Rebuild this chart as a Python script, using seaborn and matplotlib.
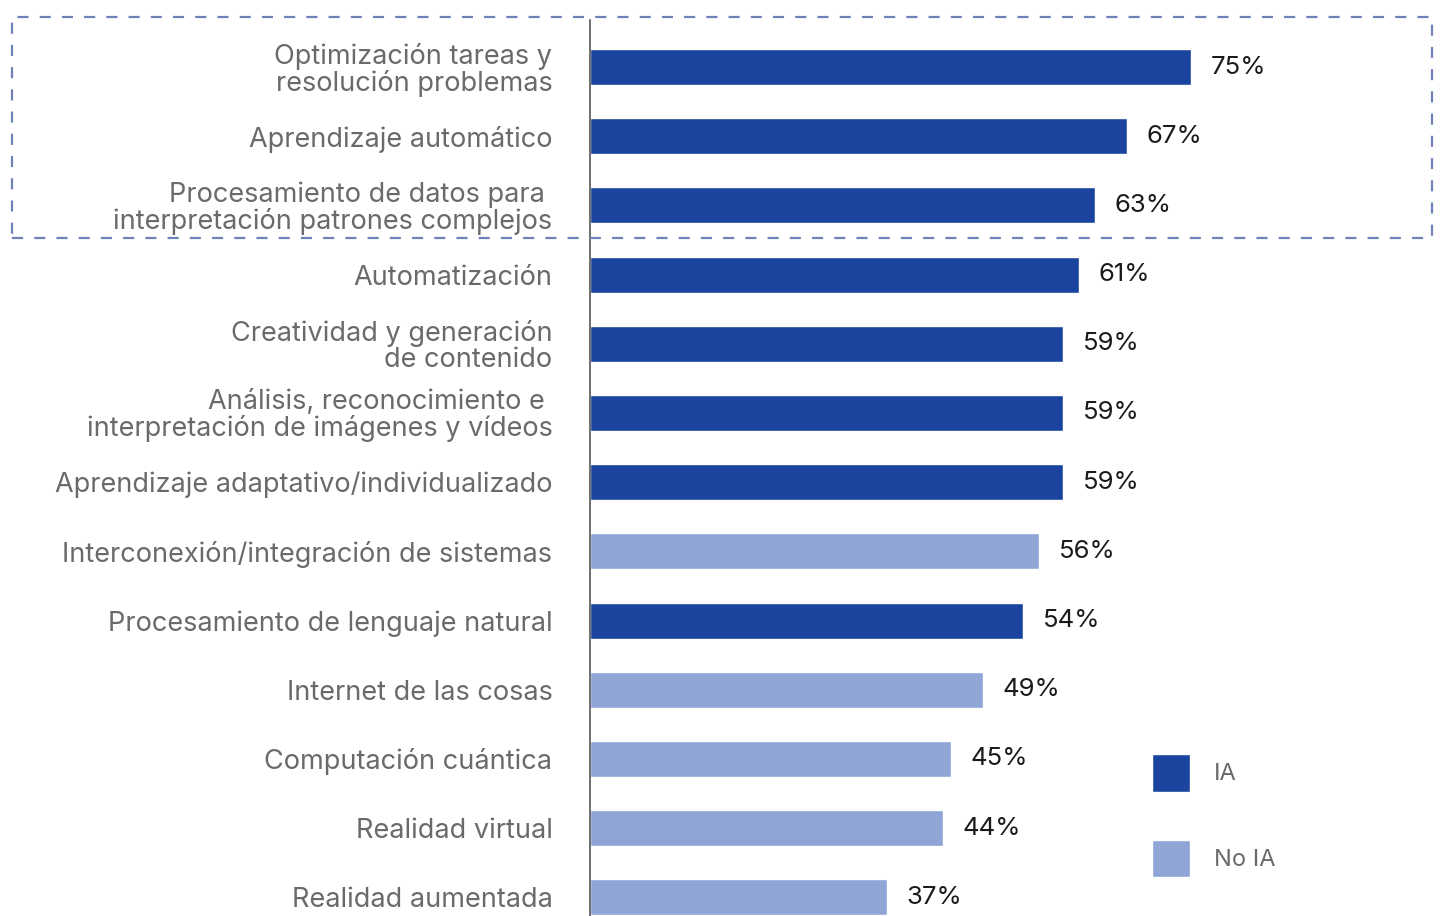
import matplotlib
matplotlib.use("Agg")
import matplotlib.pyplot as plt
import seaborn as sns
import pandas as pd
from matplotlib.patches import Patch, Rectangle

# -----------------------
# Data
# -----------------------
categories = [
    "Optimización tareas y\nresolución problemas",
    "Aprendizaje automático",
    "Procesamiento de datos para \ninterpretación patrones complejos",
    "Automatización",
    "Creatividad y generación\nde contenido",
    "Análisis, reconocimiento e \ninterpretación de imágenes y vídeos",
    "Aprendizaje adaptativo/individualizado",
    "Interconexión/integración de sistemas",
    "Procesamiento de lenguaje natural",
    "Internet de las cosas",
    "Computación cuántica",
    "Realidad virtual",
    "Realidad aumentada",
]
values = [75, 67, 63, 61, 59, 59, 59, 56, 54, 49, 45, 44, 37]
groups = ["IA", "IA", "IA", "IA", "IA", "IA", "IA", "No IA", "IA",
          "No IA", "No IA", "No IA", "No IA"]

colors = {"IA": "#1a449e", "No IA": "#8ea5d5"}
label_gray = "#6a6a6a"

df = pd.DataFrame({"Tecnologia": categories, "Valor": values, "Grupo": groups})

# -----------------------
# Plot
# -----------------------
sns.set_style("white")
plt.rcParams["font.family"] = ["Inter", "DejaVu Sans"]

fig = plt.figure(figsize=(14.4, 9.16), dpi=100)
ax = fig.add_axes([590 / 1440, 0, 850 / 1440, 1 - 20 / 916])

sns.barplot(data=df, x="Valor", y="Tecnologia", hue="Grupo", palette=colors,
            dodge=False, width=0.52, legend=False, ax=ax, saturation=1)

ax.set_xlim(0, 106)
ax.set_ylim(12.27, -0.68)
ax.set_xlabel("")
ax.set_ylabel("")
ax.set_xticks([])

ax.tick_params(axis="y", length=0, pad=27, labelsize=19.5, labelcolor=label_gray)
for lbl in ax.get_yticklabels():
    lbl.set_horizontalalignment("right")
    lbl.set_linespacing(1.0)

for side in ["top", "right", "bottom"]:
    ax.spines[side].set_visible(False)
ax.spines["left"].set_color("#555555")
ax.spines["left"].set_linewidth(1.2)

for cont in ax.containers:
    ax.bar_label(cont, fmt="%d%%", padding=14, fontsize=18.5, color="#1a1a1a")

# dashed box around top three items
box = Rectangle((12 / 1440, 1 - 238 / 916), 1420 / 1440, 221 / 916,
                transform=fig.transFigure, fill=False, edgecolor="#6f82b8",
                linewidth=1.6, linestyle=(0, (5, 5)), clip_on=False)
fig.patches.append(box)

# legend
handles = [Patch(facecolor=colors["IA"], label="IA"),
           Patch(facecolor=colors["No IA"], label="No IA")]
fig.legend(handles=handles, loc="upper left",
           bbox_to_anchor=(1131 / 1440, 1 - 733 / 916), frameon=False,
           handlelength=1.6, handleheight=2.07, labelspacing=2.03,
           handletextpad=1.0, fontsize=17, labelcolor=label_gray)

fig.savefig("out.png", dpi=100)
